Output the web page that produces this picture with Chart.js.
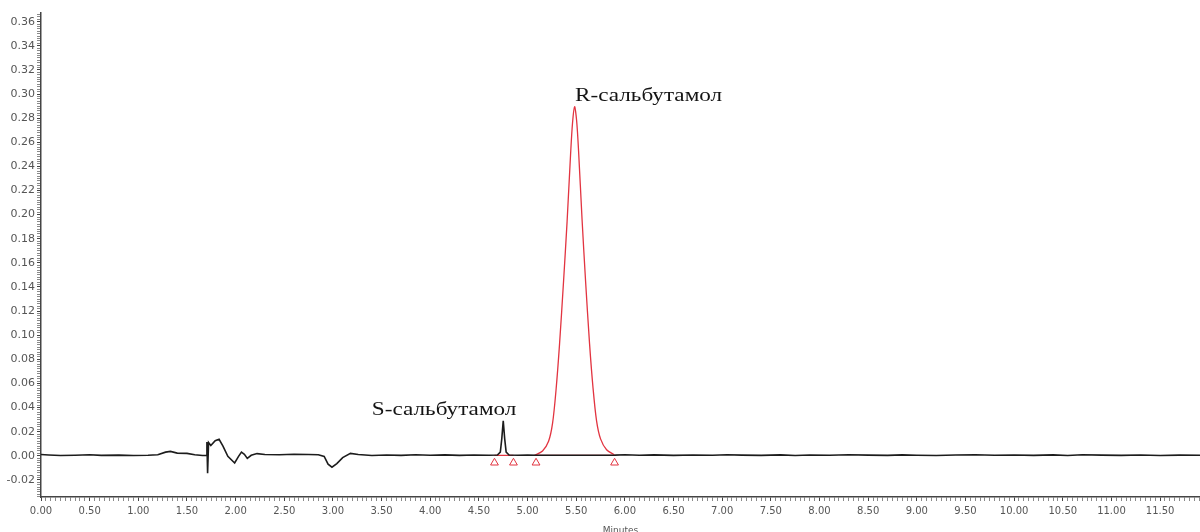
<!DOCTYPE html>
<html lang="ru">
<head>
    <meta charset="UTF-8">
    <title>Хроматограмма - сальбутамол</title>
    <script src="https://cdn.jsdelivr.net/npm/chart.js"></script>
    <style>
        body { margin: 0; background: #ffffff; }
        #chromChart { display: block; }
    </style>
</head>
<body>
    <canvas id="chromChart" width="1200" height="532"></canvas>
    <script>
        // detector trace (black), minutes / AU
        var traceTime = [
            0.00, 0.08, 0.20, 0.35, 0.50, 0.62, 0.80, 0.95, 1.10, 1.20,
            1.28, 1.33, 1.40, 1.50, 1.58, 1.66, 1.700, 1.705, 1.712, 1.722,
            1.745, 1.790, 1.830, 1.870, 1.920, 1.990, 2.030, 2.060, 2.090, 2.120,
            2.160, 2.220, 2.300, 2.450, 2.600, 2.750, 2.850, 2.910, 2.950, 2.990,
            3.040, 3.100, 3.180, 3.260, 3.400, 3.550, 3.700, 3.850, 4.000, 4.150,
            4.300, 4.450, 4.600, 4.690, 4.720, 4.735, 4.750, 4.765, 4.780, 4.810,
            4.900, 5.000, 5.100, 5.500, 5.900, 6.000, 6.150, 6.300, 6.500, 6.700,
            6.900, 7.050, 7.200, 7.400, 7.600, 7.750, 7.900, 8.100, 8.300, 8.500,
            8.700, 8.850, 9.000, 9.200, 9.400, 9.600, 9.800, 10.000, 10.200, 10.400,
            10.550, 10.700, 10.900, 11.100, 11.300, 11.500, 11.700, 11.910
        ];
        var traceSignal = [
            0.0010, 0.0006, 0.0002, 0.0004, 0.0008, 0.0003, 0.0005, 0.0002, 0.0004, 0.0008,
            0.0030, 0.0036, 0.0022, 0.0020, 0.0008, 0.0002, 0.0003, 0.0115, -0.0145, 0.0110,
            0.0085, 0.0125, 0.0137, 0.0080, -0.0005, -0.0060, -0.0005, 0.0030, 0.0012, -0.0022,
            0.0004, 0.0018, 0.0010, 0.0008, 0.0012, 0.0010, 0.0008, -0.0005, -0.0070, -0.0095,
            -0.0065, -0.0015, 0.0020, 0.0010, 0.0002, 0.0006, 0.0003, 0.0008, 0.0004, 0.0007,
            0.0003, 0.0006, 0.0004, 0.0006, 0.0030, 0.0140, 0.0289, 0.0140, 0.0030, 0.0006,
            0.0004, 0.0005, 0.0004, 0.0004, 0.0005, 0.0008, 0.0004, 0.0007, 0.0003, 0.0006,
            0.0004, 0.0009, 0.0005, 0.0003, 0.0007, 0.0002, 0.0006, 0.0004, 0.0008, 0.0005,
            0.0003, 0.0007, 0.0004, 0.0002, 0.0006, 0.0009, 0.0004, 0.0006, 0.0003, 0.0007,
            0.0002, 0.0008, 0.0005, 0.0003, 0.0006, 0.0002, 0.0005, 0.0004
        ];

        // integrated R peak (red)
        var peakTime = [
            5.072, 5.154, 5.216, 5.257, 5.293, 5.329, 5.370, 5.406, 5.442, 5.462,
            5.483, 5.504, 5.524, 5.560, 5.596, 5.637, 5.673, 5.709, 5.750, 5.812, 5.894
        ];
        var peakSignal = [
            0.0004, 0.0040, 0.0120, 0.0270, 0.0550, 0.0930, 0.1450, 0.1940, 0.2500, 0.2760,
            0.2895, 0.2780, 0.2530, 0.1960, 0.1450, 0.0930, 0.0560, 0.0290, 0.0140, 0.0050, 0.0008
        ];

        // peak start / end marks
        var markTime = [4.660, 4.855, 5.087, 5.894];
        var markSignal = [-0.0058, -0.0058, -0.0058, -0.0058];
        var baseTime = [4.660, 4.855, null, 5.087, 5.894];
        var baseSignal = [0.0004, 0.0004, null, 0.0004, 0.0004];

        var peakNames = ['S-сальбутамол', 'R-сальбутамол'];
        var peakNameTime = [3.40, 5.488];
        var peakNameSignal = [0.0336, 0.2946];

        var xTickLabels = ['0.00', '0.50', '1.00', '1.50', '2.00', '2.50', '3.00', '3.50', '4.00', '4.50',
            '5.00', '5.50', '6.00', '6.50', '7.00', '7.50', '8.00', '8.50', '9.00', '9.50',
            '10.00', '10.50', '11.00', '11.50'];
        var yTickLabels = ['-0.02', '0.00', '0.02', '0.04', '0.06', '0.08', '0.10', '0.12', '0.14', '0.16',
            '0.18', '0.20', '0.22', '0.24', '0.26', '0.28', '0.30', '0.32', '0.34', '0.36'];

        var RED = 'rgb(226, 52, 64)';

        function toPoints(xs, ys) {
            var pts = [];
            for (var i = 0; i < xs.length; i++) {
                pts.push({ x: xs[i], y: ys[i] });
            }
            return pts;
        }

        function findLabel(list, value) {
            for (var i = 0; i < list.length; i++) {
                if (Math.abs(parseFloat(list[i]) - value) < 1e-7) return list[i];
            }
            return '';
        }

        var peakNamePlugin = {
            id: 'peakNames',
            afterDatasetsDraw: function(chart) {
                var ctx = chart.ctx;
                var xs = chart.scales.x, ys = chart.scales.y;
                ctx.save();
                ctx.fillStyle = '#141414';
                ctx.font = '19px "Liberation Serif", "Times New Roman", serif';
                ctx.textAlign = 'left';
                ctx.textBaseline = 'alphabetic';
                for (var i = 0; i < peakNames.length; i++) {
                    var px = xs.getPixelForValue(peakNameTime[i]);
                    var py = ys.getPixelForValue(peakNameSignal[i]);
                    ctx.save();
                    ctx.translate(px, py);
                    ctx.scale(1.22, 1);
                    ctx.fillText(peakNames[i], 0, 0);
                    ctx.restore();
                }
                ctx.restore();
            }
        };

        var ctx = document.getElementById('chromChart').getContext('2d');
        new Chart(ctx, {
            type: 'line',
            data: {
                datasets: [
                    {
                        data: toPoints(traceTime, traceSignal),
                        borderColor: '#1c1c1c',
                        borderWidth: 1.6,
                        pointRadius: 0,
                        tension: 0
                    },
                    {
                        data: toPoints(baseTime, baseSignal),
                        borderColor: RED,
                        borderWidth: 1.3,
                        pointRadius: 0,
                        spanGaps: false
                    },
                    {
                        data: toPoints(peakTime, peakSignal),
                        borderColor: RED,
                        borderWidth: 1.3,
                        pointRadius: 0,
                        tension: 0.3
                    },
                    {
                        type: 'scatter',
                        data: toPoints(markTime, markSignal),
                        pointStyle: 'triangle',
                        pointRadius: 4.5,
                        borderColor: RED,
                        borderWidth: 1,
                        backgroundColor: 'rgba(255,255,255,0)'
                    }
                ]
            },
            options: {
                responsive: false,
                animation: false,
                layout: { autoPadding: false, padding: { top: 13, right: 0, bottom: 0, left: 0 } },
                plugins: {
                    legend: { display: false },
                    tooltip: { enabled: false }
                },
                scales: {
                    x: {
                        type: 'linear',
                        min: 0,
                        max: 11.91,
                        afterBuildTicks: function(scale) {
                            var t = [];
                            for (var k = 0; k * 0.05 <= 11.91 + 1e-9; k++) {
                                t.push({ value: Math.round(k * 5) / 100 });
                            }
                            scale.ticks = t;
                        },
                        afterFit: function(scale) {
                            scale.height = 35;
                            scale.paddingLeft = 0;
                            scale.paddingRight = 0;
                        },
                        ticks: {
                            autoSkip: false,
                            maxRotation: 0,
                            padding: 4,
                            color: '#555',
                            font: { family: '"DejaVu Sans", sans-serif', size: 10 },
                            callback: function(value) { return findLabel(xTickLabels, value); }
                        },
                        grid: {
                            drawOnChartArea: false,
                            tickLength: 4,
                            tickColor: function(c) {
                                return findLabel(xTickLabels, c.tick.value) ? '#444' : '#8a8a8a';
                            }
                        },
                        border: { display: true, color: '#444', width: 1.5 },
                        title: {
                            display: true,
                            text: 'Minutes',
                            color: '#555',
                            font: { family: '"DejaVu Sans", sans-serif', size: 9 },
                            padding: { top: 0, bottom: -4 }
                        }
                    },
                    y: {
                        type: 'linear',
                        min: -0.0342,
                        max: 0.3672,
                        afterBuildTicks: function(scale) {
                            var t = [];
                            for (var k = -17; k <= 183; k++) {
                                t.push({ value: Math.round(k * 2) / 1000 });
                            }
                            scale.ticks = t;
                        },
                        afterFit: function(scale) {
                            scale.width = 41;
                            scale.paddingTop = 0;
                            scale.paddingBottom = 0;
                        },
                        ticks: {
                            autoSkip: false,
                            padding: 2,
                            color: '#555',
                            font: { family: '"DejaVu Sans", sans-serif', size: 11 },
                            callback: function(value) { return findLabel(yTickLabels, value); }
                        },
                        grid: {
                            drawOnChartArea: false,
                            tickLength: 4,
                            tickColor: function(c) {
                                return findLabel(yTickLabels, c.tick.value) ? '#444' : '#8a8a8a';
                            }
                        },
                        border: { display: true, color: '#444', width: 1.5 }
                    }
                }
            },
            plugins: [peakNamePlugin]
        });
    </script>
</body>
</html>
